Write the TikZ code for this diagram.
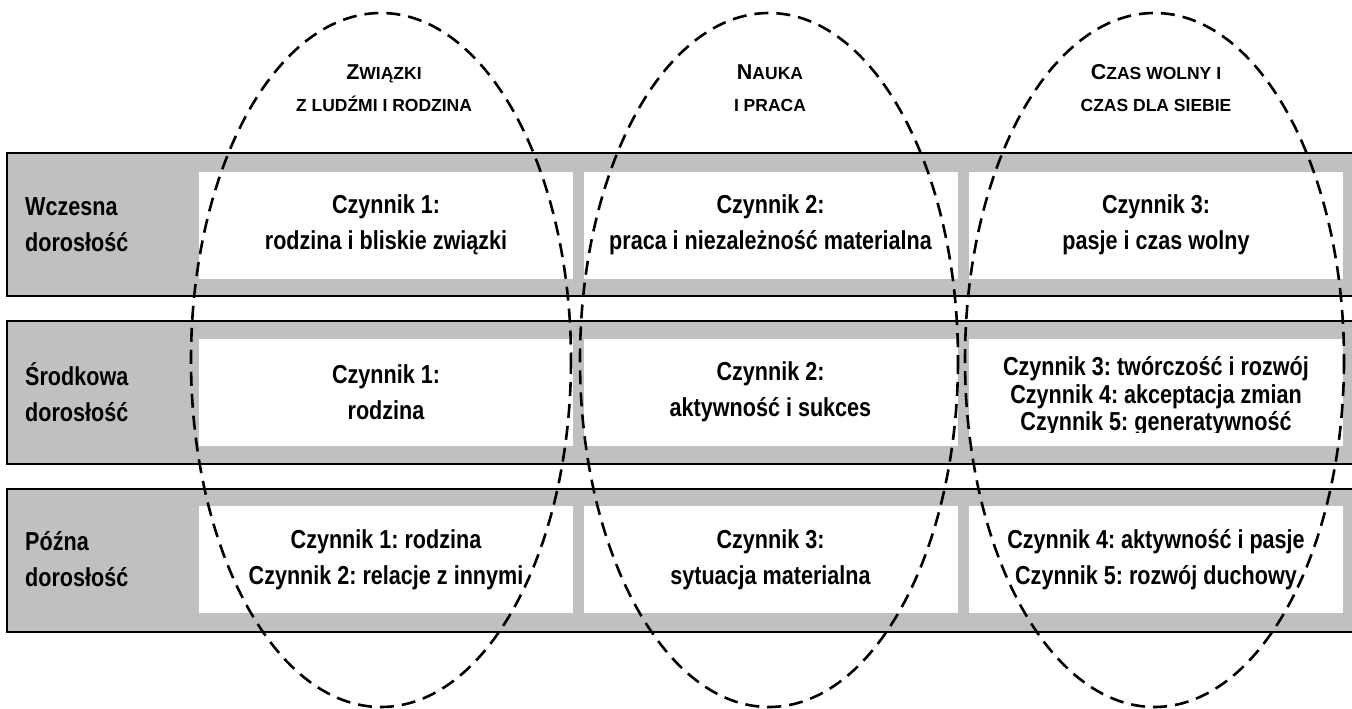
\documentclass[tikz,border=0pt]{standalone}
\usepackage{fontspec}
\setmainfont{Liberation Sans}[FakeStretch=0.83]
\newfontfamily\headfont{Liberation Sans}
\definecolor{bandgrey}{RGB}{192,192,192}
\newcommand{\hdcap}[2]{{\fontsize{21.5}{32}\selectfont #1}#2}
\frenchspacing

\begin{document}
\begin{tikzpicture}[x=1pt, y=-1pt,
  band/.style={draw=black, line width=1.5pt, fill=bandgrey},
  cell/.style={fill=white, minimum width=374pt, minimum height=107pt, inner sep=0pt,
    align=center, font=\bfseries\fontsize{26}{36}\selectfont},
  rowlabel/.style={anchor=west, align=left, inner sep=0pt,
    font=\bfseries\fontsize{26}{36}\selectfont},
  header/.style={anchor=north, align=center, inner sep=0pt,
    font=\headfont\bfseries\fontsize{17.5}{32}\selectfont},
  group/.style={dash pattern=on 14pt off 8pt, line width=2.6pt}]
 \useasboundingbox (0,0) rectangle (1352,709);
 \clip (0,0) rectangle (1352,709);

 % bands
 \draw[band] (7,153) rectangle (1370,296);
 \draw[band] (7,321) rectangle (1370,464);
 \draw[band] (7,489) rectangle (1370,632);

 % row labels
 \node[rowlabel] (wcz) at (25,225)   {Wczesna\\dorosłość};
 \node[rowlabel] (sro) at (25,392)   {Środkowa\\dorosłość};
 \node[rowlabel] (poz) at (25,559.5) {Późna\\dorosłość};

 % cells
 \node[cell] (w1) at (386,225)   {Czynnik 1:\\rodzina i bliskie związki};
 \node[cell] (w2) at (770.5,225) {Czynnik 2:\\praca i niezależność materialna};
 \node[cell] (w3) at (1156,225)  {Czynnik 3:\\pasje i czas wolny};

 \node[cell] (s1) at (386,392)   {Czynnik 1:\\rodzina};
 \node[cell] (s2) at (770.5,392) {Czynnik 2:\\aktywność i sukces};
 \node[cell] (s3) at (1156,392)  {};
 \begin{scope}
  \clip (s3.north west) rectangle ([yshift=13pt]s3.south east);
  \node[cell, fill=none, font=\bfseries\fontsize{26}{27.5}\selectfont] (s3txt) at (1156,396.5)
   {Czynnik 3: twórczość i rozwój\\Czynnik 4: akceptacja zmian\\Czynnik 5: generatywność};
 \end{scope}

 \node[cell] (p1) at (386,559.5)   {Czynnik 1: rodzina\\Czynnik 2: relacje z innymi};
 \node[cell] (p2) at (770.5,559.5) {Czynnik 3:\\sytuacja materialna};
 \node[cell] (p3) at (1156,559.5)  {Czynnik 4: aktywność i pasje\\Czynnik 5: rozwój duchowy};

 % headers
 \node[header] (h1) at (384,64.6)  {\hdcap{Z}{WIĄZKI}\\Z LUDŹMI I RODZINA};
 \node[header] (h2) at (770,64.6)  {\hdcap{N}{AUKA}\\I PRACA};
 \node[header] (h3) at (1156,64.6) {\hdcap{C}{ZAS WOLNY I}\\CZAS DLA SIEBIE};

 % groups
 \draw[group] (381,360)    ellipse [x radius=190, y radius=347];
 \draw[group] (769,360)    ellipse [x radius=189, y radius=347];
 \draw[group] (1154.5,360) ellipse [x radius=189.5, y radius=347];
\end{tikzpicture}
\end{document}
